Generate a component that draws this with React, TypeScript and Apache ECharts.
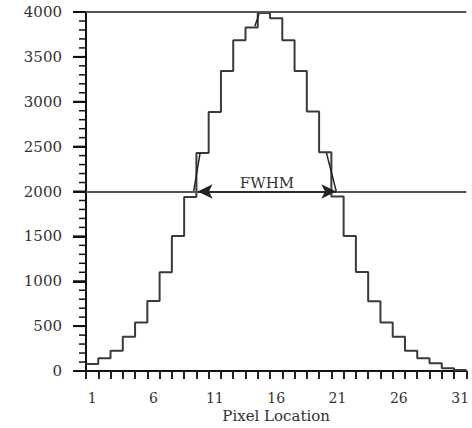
import React, { useEffect, useRef } from "react";
import * as echarts from "echarts";

// Histogram value of each pixel (bins 1..31)
const binValues = [
  78, 141, 226, 381, 541, 781, 1100, 1503, 1940, 2430, 2885, 3344, 3685, 3826, 3990,
  3930, 3685, 3344, 2890, 2437, 1944, 1503, 1104, 778, 541, 381, 226, 141, 85, 30, 10,
];
const pixelLabels = binValues.map((_, i) => String(i + 1));

const yMin = 0;
const yMax = 4000;
const yInterval = 500;
const yMajorTicks = [0, 500, 1000, 1500, 2000, 2500, 3000, 3500, 4000];
const yMinorStep = 100;

const halfMaxLevel = 2000;
const maxLevel = 4000;

// FWHM arrow ends (x measured from the left edge of pixel 1, in pixel widths)
const fwhmStart = 9.1;
const fwhmEnd = 20.4;

// visible pieces of the continuous profile drawn over the histogram
const curveSegments: number[][][] = [
  [[8.76, 1990], [9.3, 2430]],
  [[13.76, 3840], [14.1, 3975]],
  [[19.6, 2430], [20.42, 1990]],
];

const FONT = "DejaVu Serif";
const MAJOR_LEN = 13;
const MINOR_LEN = 7;

export default function App() {
  const ref = useRef<HTMLDivElement>(null);

  useEffect(() => {
    if (!ref.current) return;
    const chart = echarts.init(ref.current, null, { renderer: "svg" });

    const stepData: number[][] = [];
    binValues.forEach((v, i) => {
      stepData.push([i, v]);
      stepData.push([i + 1, v]);
    });

    const tickData: number[][] = [];
    for (let v = yMin; v <= yMax; v += yMinorStep) {
      tickData.push([v, yMajorTicks.includes(v) ? MAJOR_LEN : MINOR_LEN]);
    }

    const option: any = {
      animation: false,
      grid: { left: 86, right: 0, top: 12, bottom: 57 },
      xAxis: [
        {
          type: "value",
          min: 0,
          max: binValues.length,
          interval: 1,
          position: "bottom",
          axisLine: { show: true, onZero: false, lineStyle: { color: "#111", width: 2 } },
          axisTick: { show: true, length: 8, lineStyle: { color: "#222", width: 2 } },
          axisLabel: { show: false },
          splitLine: { show: false },
          name: "Pixel Location",
          nameLocation: "middle",
          nameGap: 37,
          nameTextStyle: { fontFamily: FONT, fontSize: 15, color: "#333" },
        },
        {
          type: "category",
          data: pixelLabels,
          boundaryGap: true,
          position: "bottom",
          offset: 0,
          axisLine: { show: false, onZero: false },
          axisTick: { show: false },
          axisLabel: {
            interval: 4,
            margin: 20,
            fontFamily: FONT,
            fontSize: 14,
            color: "#333",
          },
          splitLine: { show: false },
        },
      ],
      yAxis: {
        type: "value",
        min: yMin,
        max: yMax,
        interval: yInterval,
        axisLine: { show: true, onZero: false, lineStyle: { color: "#111", width: 2 } },
        axisTick: { show: true, length: MAJOR_LEN, lineStyle: { color: "#111", width: 2 } },
        axisLabel: {
          margin: 24,
          fontFamily: FONT,
          fontSize: 15,
          color: "#333",
          formatter: (v: number) => String(v),
        },
        splitLine: { show: false },
      },
      series: [
        {
          type: "line",
          xAxisIndex: 0,
          data: stepData,
          symbol: "none",
          lineStyle: { color: "#3a3a3a", width: 2 },
          silent: true,
          z: 3,
          markLine: {
            silent: true,
            symbol: "none",
            label: { show: false },
            lineStyle: { color: "#555", width: 2, type: "solid" },
            data: [{ yAxis: halfMaxLevel }, { yAxis: maxLevel }],
          },
        },
        ...curveSegments.map((seg) => ({
          type: "line",
          xAxisIndex: 0,
          data: seg,
          symbol: "none",
          lineStyle: { color: "#222", width: 1.5 },
          silent: true,
          z: 4,
        })),
        {
          // tick marks of the value axis (major and minor), placed via the axis scale
          type: "custom",
          xAxisIndex: 0,
          clip: false,
          silent: true,
          z: 5,
          data: tickData,
          encode: { x: -1, y: 0 },
          renderItem: (_params: any, api: any) => {
            const v = api.value(0);
            const len = api.value(1);
            const p = api.coord([0, v]);
            return {
              type: "line",
              shape: { x1: p[0] - len, y1: p[1], x2: p[0], y2: p[1] },
              style: { stroke: "#111", lineWidth: len >= MAJOR_LEN ? 2 : 1.5 },
            };
          },
        },
        {
          type: "line",
          xAxisIndex: 0,
          data: [[fwhmStart, halfMaxLevel]],
          symbol: "none",
          lineStyle: { opacity: 0 },
          silent: true,
          markLine: {
            silent: true,
            symbol: ["arrow", "arrow"],
            symbolSize: [11, 15],
            lineStyle: { color: "#222", width: 1.5, type: "solid" },
            label: {
              show: true,
              position: "middle",
              formatter: "FWHM",
              fontFamily: FONT,
              fontSize: 15,
              color: "#333",
              distance: 1,
            },
            data: [
              [
                { coord: [fwhmStart, halfMaxLevel] },
                { coord: [fwhmEnd, halfMaxLevel] },
              ],
            ],
          },
        },
      ],
    };

    chart.setOption(option);
    return () => chart.dispose();
  }, []);

  return (
    <div
      ref={ref}
      style={{ position: "absolute", left: 0, top: 0, width: 472, height: 428, background: "#fff" }}
    />
  );
}
